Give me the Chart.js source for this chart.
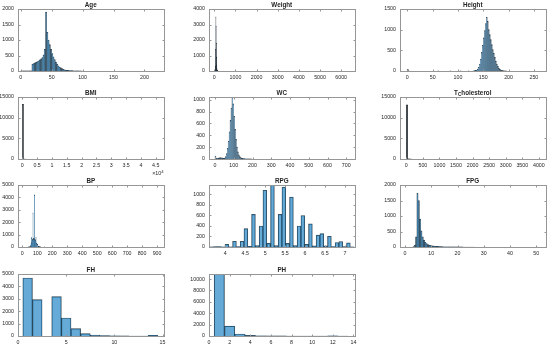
<!DOCTYPE html>
<html><head><meta charset="utf-8">
<script src="https://cdn.jsdelivr.net/npm/chart.js@4/dist/chart.umd.min.js"></script>
<style>
html,body{margin:0;padding:0;background:#fff;width:550px;height:348px;overflow:hidden;position:relative}
canvas{position:absolute}
</style></head><body>
<script>
// ---------------- data ----------------
const titles = ['Age','Weight','Height','BMI','WC','T_Cholesterol','BP','RPG','FPG','FH','PH'];

const ageBinStart = 0, ageBinWidth = 2;
const ageCounts = [4,2,3,2,3,3,4,4,6,220,240,260,280,300,330,360,390,430,520,700,1900,1250,1000,850,700,560,460,370,290,220,170,130,100,75,55,40,30,25,20,15,12,10,8,6,5,4,3,2,2,1];
const ageXTicks = [0,50,100,150,200];
const ageYTicks = [0,500,1000,1500,2000];

const weightBinStart = 30, weightBinWidth = 10;
const weightCounts = [5,50,300,1400,3500,2900,1800,900,400,150,60,20,10,5];
const weightXTicks = [0,1000,2000,3000,4000,5000,6000];
const weightYTicks = [0,1000,2000,3000,4000];

const heightBinStart = 130, heightBinWidth = 2;
const heightCounts = [5,8,15,25,45,90,170,290,450,620,800,980,1150,1300,1200,1000,880,760,640,520,430,330,240,170,110,70,40,25,15,8,5,3,2];
const heightOutX = [1,3,61,85,105,121];
const heightOutN = [40,6,3,3,4,5];
const heightXTicks = [0,50,100,150,200,250];
const heightYTicks = [0,500,1000,1500];

const bmiBinStart = 0, bmiBinWidth = 420;
const bmiCounts = [13250,3,1];
const bmiXTicks = [0,5000,10000,15000,20000,25000,30000,35000,40000,45000];
const bmiYTicks = [0,5000,10000,15000];

const wcBinStart = 0, wcBinWidth = 5;
const wcCounts = [50,10,8,15,20,22,20,18,15,12,15,40,90,180,300,460,650,860,1040,930,720,500,330,200,120,70,40,25,15,10,7,5,4,3,2,2,1,1,1];
const wcXTicks = [0,100,200,300,400,500,600,700];
const wcYTicks = [0,200,400,600,800,1000];

const tcBinStart = 0, tcBinWidth = 42;
const tcCounts = [13100,60,15,5];
const tcXTicks = [0,500,1000,1500,2000,2500,3000,3500,4000];
const tcYTicks = [0,5000,10000,15000];

const bpBinStart = 40, bpBinWidth = 2.5;
const bpCounts = [5,8,12,20,40,80,160,300,750,420,560,620,2750,700,660,700,4200,620,600,520,780,330,280,200,230,100,70,50,60,30,20,15,15];
const bpOutX = [148.75,198.75];
const bpOutN = [10,5];
const bpXTicks = [0,100,200,300,400,500,600,700,800,900];
const bpYTicks = [0,1000,2000,3000,4000,5000];

const rpgBinStart = 3.61, rpgBinWidth = 0.09526;
const rpgCounts = [5,8,10,3,50,5,110,10,110,350,15,620,25,400,1080,70,1180,25,620,1140,70,950,25,400,600,50,440,20,225,255,20,205,10,85,105,10,80,5];
const rpgXTicks = [4,4.5,5,5.5,6,6.5,7];
const rpgYTicks = [0,200,400,600,800,1000];

const fpgBinStart = 3, fpgBinWidth = 0.5;
const fpgCounts = [10,60,330,1730,1500,900,520,330,220,150,110,80,60,50,40,35,30,25,20,18,15,12,10,9,8,7,6,5,5,4,4,3,3,3,2,2,2,2,1,1,1,1,1,1,1,1,1];
const fpgXTicks = [0,10,20,30,40,50];
const fpgYTicks = [0,500,1000,1500,2000];

const fhBinStart = 0.5, fhBinWidth = 1;
const fhCounts = [4680,2930,0,3170,1450,590,190,80,30,10,5,3,3,50];
const fhXTicks = [0,5,10,15];
const fhYTicks = [0,1000,2000,3000,4000,5000];

const phBinStart = 0.5, phBinWidth = 1;
const phCounts = [10900,1744,350,100,30,12,8,5,3,3,3,25,5];
const phXTicks = [0,2,4,6,8,10,12,14];
const phYTicks = [0,2000,4000,6000,8000,10000];

// ---------------- helpers ----------------
function binPts(start, width, counts, outX, outN){
  const p = counts.map((n,i)=>({x: start + width*(i+0.5), y: n}));
  if (outX) outX.forEach((x,i)=>p.push({x: x, y: outN[i]}));
  return p.sort((a,b)=>a.x-b.x);
}

const FONT = '"Liberation Sans", Arial, Helvetica, sans-serif';
const TXT = '#262626';
const AXC = 'rgb(150,150,150)';
const TICK_SIZE = 5.3, TITLE_SIZE = 6.3;

const panels = [
  {title: titles[0], data: binPts(ageBinStart, ageBinWidth, ageCounts), xlim:[-4.4,230.8], ylim:[0,2000], xt: ageXTicks, yt: ageYTicks},
  {title: titles[1], data: binPts(weightBinStart, weightBinWidth, weightCounts), xlim:[-250,6630], ylim:[0,4000], xt: weightXTicks, yt: weightYTicks, dark:true},
  {title: titles[2], data: binPts(heightBinStart, heightBinWidth, heightCounts, heightOutX, heightOutN), xlim:[-14.5,273], ylim:[0,1500], xt: heightXTicks, yt: heightYTicks},
  {title: titles[3], data: binPts(bmiBinStart, bmiBinWidth, bmiCounts), xlim:[-1450,47600], ylim:[0,15000], xt: bmiXTicks, yt: bmiYTicks, xdiv:10000, exponent:'4', gray:true},
  {title: titles[4], data: binPts(wcBinStart, wcBinWidth, wcCounts), xlim:[-32,744], ylim:[0,1045], xt: wcXTicks, yt: wcYTicks},
  {title: titles[5], data: binPts(tcBinStart, tcBinWidth, tcCounts), xlim:[-190,4200], ylim:[0,15000], xt: tcXTicks, yt: tcYTicks, gray:true},
  {title: titles[6], data: binPts(bpBinStart, bpBinWidth, bpCounts, bpOutX, bpOutN), xlim:[-29,943], ylim:[0,5000], xt: bpXTicks, yt: bpYTicks},
  {title: titles[7], data: binPts(rpgBinStart, rpgBinWidth, rpgCounts), xlim:[3.59,7.24], ylim:[0,1180], xt: rpgXTicks, yt: rpgYTicks},
  {title: titles[8], data: binPts(fpgBinStart, fpgBinWidth, fpgCounts), xlim:[-1.9,53.5], ylim:[0,2000], xt: fpgXTicks, yt: fpgYTicks},
  {title: titles[9], data: binPts(fhBinStart, fhBinWidth, fhCounts), xlim:[0,15.1], ylim:[0,5000], xt: fhXTicks, yt: fhYTicks},
  {title: titles[10], data: binPts(phBinStart, phBinWidth, phCounts), xlim:[0,14.1], ylim:[0,10900], xt: phXTicks, yt: phYTicks}
];

// ---------------- drawing ----------------
function drawTeX(ctx, str, cx, baseline, size){
  const parts = [];
  for (let i=0;i<str.length;i++){
    if (str[i]==='_' && i+1<str.length){ parts.push({t:str[i+1], sub:true}); i++; }
    else if (parts.length && !parts[parts.length-1].sub) parts[parts.length-1].t += str[i];
    else parts.push({t:str[i], sub:false});
  }
  let total = 0;
  parts.forEach(p=>{
    ctx.font = 'bold ' + (p.sub? size*0.75 : size) + 'px ' + FONT;
    p.w = ctx.measureText(p.t).width; total += p.w;
  });
  let x = cx - total/2;
  ctx.textAlign = 'left'; ctx.textBaseline = 'alphabetic'; ctx.fillStyle = TXT;
  parts.forEach(p=>{
    ctx.font = 'bold ' + (p.sub? size*0.75 : size) + 'px ' + FONT;
    ctx.fillText(p.t, x, baseline + (p.sub? size*0.3 : 0));
    x += p.w;
  });
}

const matlabAxes = {
  id: 'matlabAxes',
  afterDraw(chart, args, opts){
    const ctx = chart.ctx, a = chart.chartArea;
    const xs = chart.scales.x, ys = chart.scales.y;
    const r = v => Math.round(v) + 0.5;
    ctx.save();
    ctx.strokeStyle = AXC; ctx.lineWidth = 1;
    const tl = 2;
    const L = r(a.left), Rr = r(a.right), Tt = r(a.top), Bb = r(a.bottom);
    ctx.beginPath();
    xs.ticks.forEach(t=>{
      const p = r(xs.getPixelForValue(t.value));
      ctx.moveTo(p, Bb); ctx.lineTo(p, Bb - tl);
      ctx.moveTo(p, Tt); ctx.lineTo(p, Tt + tl);
    });
    ys.ticks.forEach(t=>{
      const p = r(ys.getPixelForValue(t.value));
      ctx.moveTo(L, p); ctx.lineTo(L + tl, p);
      ctx.moveTo(Rr, p); ctx.lineTo(Rr - tl, p);
    });
    ctx.stroke();
    ctx.strokeRect(L, Tt, Rr - L, Bb - Tt);
    drawTeX(ctx, opts.title, (a.left + a.right)/2, a.top - 2.5, TITLE_SIZE);
    if (opts.exponent){
      ctx.fillStyle = TXT; ctx.textBaseline = 'alphabetic'; ctx.textAlign = 'right';
      ctx.font = (TICK_SIZE*0.8) + 'px ' + FONT;
      const ew = ctx.measureText(opts.exponent).width;
      const yb = a.bottom + 16;
      ctx.fillText(opts.exponent, a.right, yb - 2.5);
      ctx.font = TICK_SIZE + 'px ' + FONT;
      ctx.fillText('\u00d710', a.right - ew, yb);
    }
    ctx.restore();
  }
};

Chart.defaults.font.family = FONT;
Chart.defaults.font.size = TICK_SIZE;
Chart.defaults.color = TXT;

const AW = 145.5, AH = 62, PL = 32, PT = 14, PR = 10, PB = 18;
const colLeft = [17.5, 209, 399.5];
const rowTop = [9, 97, 185, 274];

panels.forEach((p, i)=>{
  const col = i % 3, row = Math.floor(i / 3);
  const left = colLeft[col] - PL, top = rowTop[row] - PT;
  const cv = document.createElement('canvas');
  const W = Math.round(PL + AW + PR), H = Math.round(PT + AH + PB);
  cv.width = W; cv.height = H;
  cv.style.left = left + 'px'; cv.style.top = top + 'px';
  cv.style.width = W + 'px'; cv.style.height = H + 'px';
  document.body.appendChild(cv);
  const xt = p.xt, yt = p.yt, div = p.xdiv || 1;
  let bg = 'rgba(0,114,189,0.6)', bc = 'rgba(0,0,0,0.7)';
  if (p.dark) { bg = 'rgba(30,45,60,0.95)'; bc = 'rgba(0,0,0,0.95)'; }
  if (p.gray) { bg = 'rgba(70,80,90,0.9)'; bc = 'rgba(20,20,20,0.9)'; }
  new Chart(cv, {
    type: 'bar',
    data: { datasets: [{
      data: p.data,
      backgroundColor: bg,
      borderColor: bc,
      borderWidth: 0.5,
      barPercentage: 1, categoryPercentage: 1
    }]},
    options: {
      responsive: false, animation: false, devicePixelRatio: 1,
      events: [],
      layout: { padding: { left: 0, top: PT, right: W - PL - AW, bottom: 0 } },
      plugins: { legend: {display:false}, tooltip: {enabled:false}, title:{display:false},
                 matlabAxes: { title: p.title, exponent: p.exponent } },
      scales: {
        x: { type: 'linear', min: p.xlim[0], max: p.xlim[1], offset: false,
             grid: {display:false, drawTicks:false}, border: {display:false},
             ticks: { autoSkip:false, maxRotation:0, minRotation:0, padding: 3,
                      callback: v => String(Math.round(v/div*1000)/1000) },
             afterBuildTicks: s => { s.ticks = xt.map(v=>({value:v})); },
             afterFit: s => { s.height = PB; s.paddingLeft = 0; s.paddingRight = 0; } },
        y: { type: 'linear', min: p.ylim[0], max: p.ylim[1],
             grid: {display:false, drawTicks:false}, border: {display:false},
             ticks: { autoSkip:false, padding: 4, callback: v => String(v) },
             afterBuildTicks: s => { s.ticks = yt.map(v=>({value:v})); },
             afterFit: s => { s.width = PL; s.paddingTop = 0; s.paddingBottom = 0; } }
      }
    },
    plugins: [matlabAxes]
  });
});
</script>
</body></html>
